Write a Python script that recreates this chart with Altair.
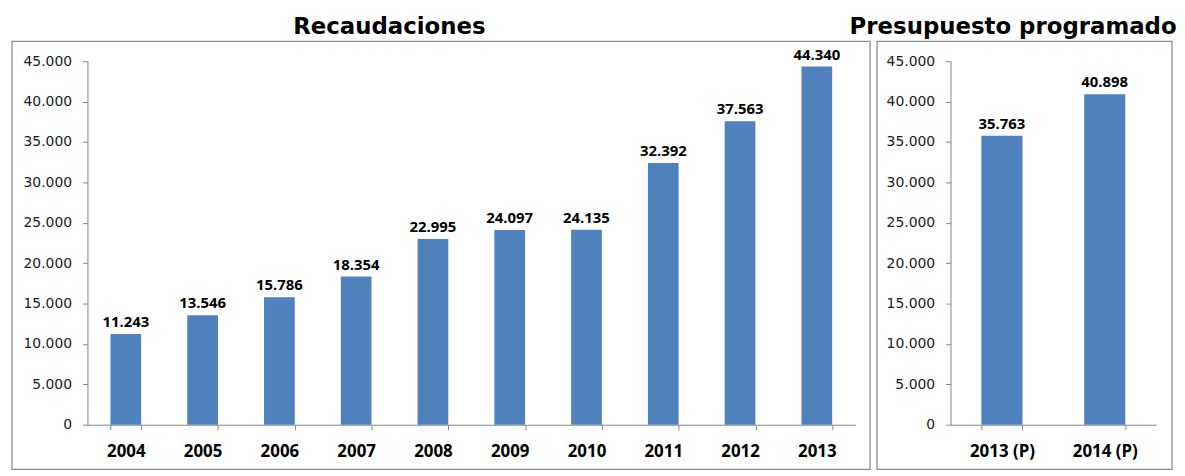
import altair as alt
import pandas as pd

# ---- data ----
years = ["2004", "2005", "2006", "2007", "2008", "2009", "2010", "2011", "2012", "2013"]
recaudaciones = [11243, 13546, 15786, 18354, 22995, 24097, 24135, 32392, 37563, 44340]
pres_labels = ["2013 (P)", "2014 (P)"]
pres_values = [35763, 40898]
y_ticks = [0, 5000, 10000, 15000, 20000, 25000, 30000, 35000, 40000, 45000]
title_left = "Recaudaciones"
title_right = "Presupuesto programado"

BLUE = "#4F81BD"
FRAME = "#8C8C8C"
AXIS = "#868686"
PLOT_H = 366
FMT_AXIS = "replace(format(datum.value, ','), ',', '.')"
FMT_LABEL = "replace(format(datum.val, ','), ',', '.')"


def panel(cats, vals, width, title, title_x, frame_left, frame_right):
    df = pd.DataFrame({"cat": cats, "val": vals})
    base = alt.Chart(df)
    x = alt.X(
        "cat:N",
        sort=cats,
        title=None,
        scale=alt.Scale(paddingInner=0.6, paddingOuter=0.3),
        axis=alt.Axis(
            labelAngle=0,
            tickBand="extent",
            tickSize=5,
            labelPadding=14,
            labelFont="Open Sans",
            labelFontWeight="bold",
            labelFontSize=17,
            labelColor="#000000",
            domainColor=AXIS,
            tickColor=AXIS,
        ),
    )
    y = alt.Y(
        "val:Q",
        title=None,
        scale=alt.Scale(domain=[0, 45000], nice=False),
        axis=alt.Axis(
            values=y_ticks,
            labelExpr=FMT_AXIS,
            grid=False,
            tickSize=5,
            labelPadding=11,
            labelFont="DejaVu Sans",
            labelFontSize=14,
            labelColor="#1a1a1a",
            domainColor=AXIS,
            tickColor=AXIS,
        ),
    )
    bars = base.mark_bar(color=BLUE).encode(x=x, y=y)
    labels = (
        base.transform_calculate(lbl=FMT_LABEL)
        .mark_text(dy=-7, baseline="alphabetic", font="Open Sans",
                   fontWeight="bold", fontSize=15, color="#000000")
        .encode(x=alt.X("cat:N", sort=cats), y=alt.Y("val:Q"), text="lbl:N")
    )
    frame = (
        alt.Chart(alt.Data(values=[{"k": 1}]))
        .mark_rect(fillOpacity=0, stroke=FRAME, strokeWidth=1.3)
        .encode(x=alt.value(frame_left), x2=alt.value(frame_right),
                y=alt.value(-20), y2=alt.value(PLOT_H + 45))
    )
    ttl = (
        alt.Chart(alt.Data(values=[{"t": title}]))
        .mark_text(font="DejaVu Sans", fontWeight="bold", fontSize=23,
                   align="center", baseline="alphabetic", color="#000000")
        .encode(x=alt.value(title_x), y=alt.value(-27), text="t:N")
    )
    return alt.layer(frame, bars, labels, ttl).properties(width=width, height=PLOT_H)


left = panel(years, recaudaciones, 773, title_left, 304, -76, 788)
right = panel(pres_labels, pres_values, 207, title_right, 63, -74, 223)

chart = (
    alt.hconcat(left, right, spacing=96, bounds="flush")
    .properties(padding={"left": 3, "top": 7, "right": 0, "bottom": 0})
    .configure_view(strokeWidth=0)
)

chart.save("out.html", embed_options={"renderer": "svg", "actions": False})
